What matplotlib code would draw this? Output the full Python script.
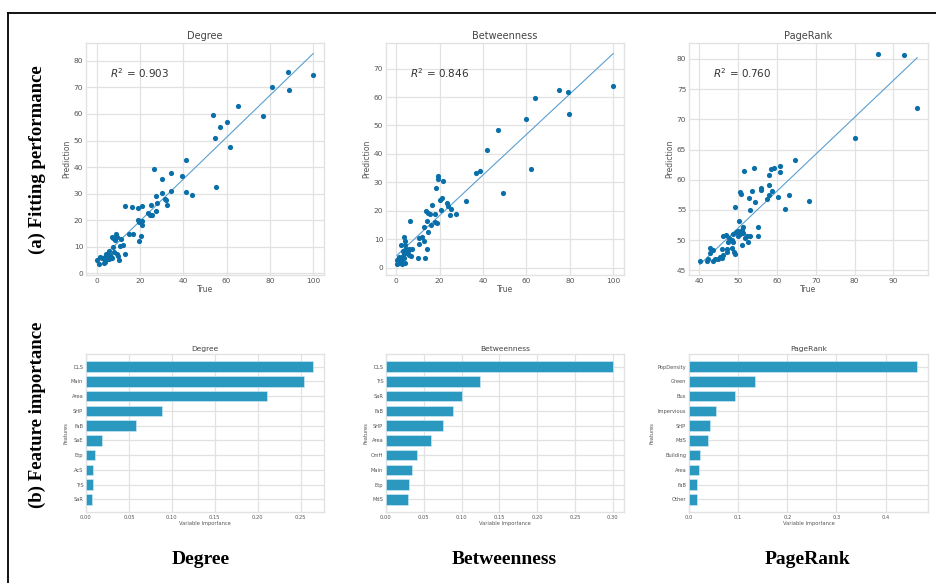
import numpy as np
import matplotlib.pyplot as plt
from matplotlib.lines import Line2D

names = ['Degree', 'Betweenness', 'PageRank']
r2 = [0.903, 0.846, 0.760]

# scatter: true vs prediction
deg_true = [100, 88.5, 88.8, 81.1, 77.0, 65.4, 60.1, 57.0, 53.6, 54.8, 61.6, 55.3, 41.0, 39.5, 41.0, 43.9,
            26.3, 34.1, 30.0, 34.1, 30.0, 27.3, 31.5, 32.0, 32.5, 27.6, 27.3, 25.0, 23.8, 24.6, 25.6, 21.0,
            16.1, 12.9, 19.0, 18.9, 19.7, 21.0, 21.0, 14.7, 16.9, 20.4, 19.7, 6.8, 7.7, 8.9, 9.1, 8.4, 11.2,
            12.1, 10.9, 13.1, 7.4, 5.5, 8.1, 4.1, 6.1, 7.2, 9.2, 10.0, 10.1, 4.8, 3.1, 1.5, 0.0, 0.9, 3.1,
            4.0, 2.5, 5.5, 6.5, 4.6]
deg_pred = [74.7, 75.8, 69.2, 70.2, 59.4, 63.1, 56.9, 55.0, 59.7, 51.0, 47.7, 32.4, 42.7, 36.7, 30.5, 29.5,
            39.3, 37.7, 35.7, 30.9, 30.4, 29.3, 27.9, 27.6, 25.9, 26.4, 23.5, 25.8, 22.9, 22.0, 21.9, 25.3,
            24.9, 25.3, 24.5, 20.1, 19.5, 19.8, 18.1, 14.7, 14.7, 14.2, 12.1, 13.7, 13.2, 15.0, 13.7, 12.7,
            13.1, 10.8, 10.3, 7.4, 10.1, 8.3, 8.2, 7.2, 6.9, 5.7, 7.5, 6.7, 5.2, 6.4, 6.0, 6.2, 5.2, 3.4,
            4.0, 4.4, 5.7, 5.3, 6.3, 5.5]

bet_true = [100, 74.9, 79.0, 79.8, 64.2, 59.6, 62.1, 46.7, 41.8, 38.4, 37.0, 49.2, 32.3, 27.6, 24.6, 25.3,
            23.8, 23.2, 21.8, 19.4, 19.4, 21.0, 20.3, 18.2, 20.8, 18.9, 17.8, 17.8, 16.6, 15.5, 13.7, 14.7,
            14.1, 16.1, 14.6, 12.6, 12.9, 12.0, 10.3, 10.4, 14.1, 10.0, 13.2, 6.6, 7.4, 3.5, 4.3, 4.3, 2.3,
            5.8, 6.1, 6.9, 4.9, 3.8, 4.6, 3.1, 1.5, 0.3, 0.3, 1.2, 2.3, 1.8, 3.8, 4.3, 2.8, 0.8, 5.5, 3.1]
bet_pred = [64.0, 62.4, 61.6, 54.0, 59.8, 52.1, 34.6, 48.5, 41.5, 34.0, 33.2, 26.2, 23.5, 18.7, 18.5, 20.7,
            21.6, 22.8, 30.5, 32.2, 31.3, 24.6, 23.9, 28.0, 20.1, 15.8, 16.0, 18.7, 22.0, 18.7, 19.8, 19.3,
            16.4, 14.9, 12.4, 14.4, 9.3, 10.8, 10.4, 8.2, 6.6, 3.4, 3.2, 16.5, 6.6, 10.8, 9.3, 8.1, 8.0,
            6.4, 4.6, 4.0, 5.2, 5.2, 6.6, 4.0, 3.6, 2.6, 1.3, 1.6, 2.4, 2.8, 3.4, 1.6, 1.1, 1.9, 5.8, 5.8]

pr_true = [86.1, 92.7, 96.1, 80.2, 68.3, 64.6, 60.9, 60.9, 59.3, 58.5, 58.0, 58.1, 55.9, 55.9, 58.7, 57.9,
           57.4, 60.4, 63.1, 62.2, 54.1, 51.6, 53.6, 50.5, 50.8, 52.9, 54.3, 53.1, 49.2, 50.2, 55.1, 55.1,
           49.9, 49.4, 50.5, 50.1, 51.4, 51.0, 51.8, 51.2, 52.4, 53.1, 52.5, 51.0, 48.8, 48.4, 48.8, 47.7,
           46.9, 46.2, 47.5, 45.8, 47.1, 48.4, 47.2, 48.9, 49.2, 46.2, 45.5, 44.9, 44.1, 43.5, 42.1, 42.3,
           42.8, 43.5, 42.8, 40.2, 46.0]
pr_pred = [80.9, 80.6, 71.9, 66.9, 56.4, 63.3, 62.3, 61.3, 61.9, 61.7, 60.7, 59.2, 58.7, 58.3, 58.2, 57.5,
           56.8, 57.2, 57.5, 55.2, 61.9, 61.5, 58.2, 57.9, 57.6, 56.9, 56.3, 54.9, 55.4, 53.2, 52.1, 50.7,
           51.5, 51.3, 51.0, 50.6, 51.2, 51.6, 50.4, 52.1, 50.6, 50.6, 49.6, 49.1, 51.0, 50.0, 49.7, 50.3,
           50.9, 50.7, 49.7, 48.5, 48.5, 48.6, 48.1, 48.0, 47.7, 47.5, 47.2, 46.8, 46.8, 46.6, 46.5, 46.8,
           48.6, 48.4, 47.9, 46.5, 47.1]

# feature importance, top to bottom
deg_feat = ['DLS', 'Main', 'Area', 'SHP', 'FaB', 'SaE', 'Etp', 'AcS', 'TrS', 'SaR']
deg_imp = [0.264, 0.254, 0.211, 0.089, 0.058, 0.019, 0.010, 0.0086, 0.0078, 0.0074]
bet_feat = ['DLS', 'TrS', 'SaR', 'FaB', 'SHP', 'Area', 'CmH', 'Main', 'Etp', 'MdS']
bet_imp = [0.300, 0.125, 0.100, 0.089, 0.076, 0.059, 0.041, 0.035, 0.030, 0.029]
pr_feat = ['PopDensity', 'Green', 'Bus', 'Impervious', 'SHP', 'MdS', 'Building', 'Area', 'FaB', 'Other']
pr_imp = [0.463, 0.135, 0.094, 0.054, 0.042, 0.039, 0.022, 0.021, 0.016, 0.016]

trues = [deg_true, bet_true, pr_true]
preds = [deg_pred, bet_pred, pr_pred]
feats = [deg_feat, bet_feat, pr_feat]
imps = [deg_imp, bet_imp, pr_imp]

plt.rcParams['font.family'] = ['DejaVu Sans']
grid_c = '#e2e2e2'
txt_c = '#555555'

fig = plt.figure(figsize=(9.36, 5.83), dpi=100)

lefts = [86, 386, 689]
widths = [238, 238, 239]

def style(ax, fs):
    ax.set_facecolor('white')
    for s in ax.spines.values():
        s.set_color(grid_c)
        s.set_linewidth(1.0)
    ax.grid(True, color=grid_c, linewidth=0.9)
    ax.set_axisbelow(True)
    ax.tick_params(length=0, labelsize=fs, colors=txt_c, pad=2)

for i in range(3):
    ax = fig.add_axes([lefts[i] / 936, (583 - 275) / 583, widths[i] / 936, 232 / 583])
    style(ax, 5.3)
    x = np.array(trues[i])
    y = np.array(preds[i])
    ax.scatter(x, y, s=14, color='#0a6fa8', linewidths=0, zorder=3)
    b, a = np.polyfit(x, y, 1)
    xx = np.array([x.min(), x.max()])
    ax.plot(xx, a + b * xx, color='#5a9fd0', linewidth=0.8, zorder=2)
    ax.set_title(names[i], fontsize=7, color='#444444', pad=3)
    ax.set_xlabel('True', fontsize=5.5, color=txt_c, labelpad=1)
    ax.set_ylabel('Prediction', fontsize=5.5, color=txt_c, labelpad=2)
    ax.text(0.1, 0.87, '$R^2$ = %.3f' % r2[i], transform=ax.transAxes,
            fontsize=7.5, color='#333333', va='center', ha='left')

for i in range(3):
    ax = fig.add_axes([lefts[i] / 936, (583 - 512) / 583, widths[i] / 936, 158 / 583])
    style(ax, 3.7)
    pos = np.arange(len(feats[i]))[::-1]
    ax.barh(pos, imps[i], height=0.72, color='#2b98bf', edgecolor='#d8eef6', linewidth=0.4, zorder=3)
    ax.set_yticks(pos)
    ax.set_yticklabels(feats[i])
    ax.set_title(names[i], fontsize=5.4, color='#444444', pad=2)
    ax.set_xlabel('Variable Importance', fontsize=3.7, color=txt_c, labelpad=1)
    ax.set_ylabel('Features', fontsize=3.7, color=txt_c, labelpad=2)

serif = ['Liberation Serif', 'DejaVu Serif']
fig.text(37 / 936, 1 - 160 / 583, '(a) Fitting performance', rotation=90, ha='center', va='center',
         fontsize=13.5, fontweight='bold', family=serif)
fig.text(37 / 936, 1 - 415 / 583, '(b) Feature importance', rotation=90, ha='center', va='center',
         fontsize=13.5, fontweight='bold', family=serif)
centers = [201, 504, 808]
for i in range(3):
    fig.text(centers[i] / 936, 1 - 560 / 583, names[i], ha='center', va='center',
             fontsize=14, fontweight='bold', family=serif)

# outer frame
fig.add_artist(Line2D([8 / 936, 8 / 936], [0, 1 - 13 / 583], color='black', linewidth=1.3,
                      transform=fig.transFigure))
fig.add_artist(Line2D([8 / 936, 1], [1 - 13 / 583, 1 - 13 / 583], color='black', linewidth=1.3,
                      transform=fig.transFigure))

fig.savefig('out.png', dpi=100)
